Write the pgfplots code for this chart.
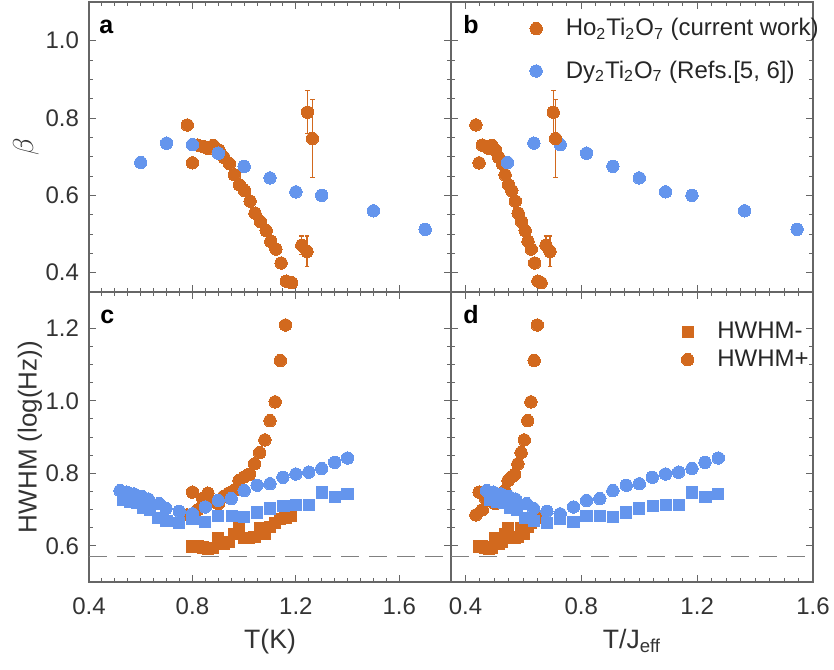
\documentclass[border=0pt]{standalone}
\usepackage{fontspec}
\setmainfont{Liberation Sans}
\usepackage{pgfplots}
\usepackage{pgfplotstable}
\pgfplotsset{compat=1.18}
\definecolor{ho}{RGB}{210,105,30}
\definecolor{dy}{RGB}{100,149,237}

% Ho2Ti2O7 beta vs T(K)
\pgfplotstableread{
x y
0.780 0.782
0.800 0.684
0.820 0.730
0.841 0.727
0.861 0.721
0.881 0.729
0.903 0.717
0.922 0.698
0.943 0.682
0.962 0.653
0.982 0.627
1.002 0.612
1.023 0.585
1.042 0.554
1.063 0.532
1.085 0.509
1.103 0.481
1.123 0.461
1.143 0.425
1.163 0.378
1.184 0.374
}\hoBetaA
\pgfplotstableread{
x y
0.436 0.782
0.447 0.684
0.458 0.730
0.470 0.727
0.481 0.721
0.492 0.729
0.504 0.717
0.515 0.698
0.527 0.682
0.537 0.653
0.549 0.627
0.560 0.612
0.572 0.585
0.582 0.554
0.594 0.532
0.606 0.509
0.616 0.481
0.627 0.461
0.639 0.425
0.650 0.378
0.661 0.374
}\hoBetaB
\pgfplotstableread{
x y e
1.245 0.815 0.056
1.264 0.747 0.100
1.223 0.471 0.024
1.243 0.455 0.040
}\hoErrA
\pgfplotstableread{
x y e
0.703 0.815 0.056
0.711 0.747 0.100
0.678 0.471 0.024
0.692 0.455 0.040
}\hoErrB
\pgfplotstableread{
x y
0.6 0.685
0.7 0.735
0.8 0.731
0.9 0.709
1.0 0.675
1.1 0.645
1.2 0.609
1.3 0.600
1.5 0.560
1.7 0.512
}\dyBetaA
\pgfplotstableread{
x y
0.545 0.685
0.636 0.735
0.727 0.731
0.818 0.709
0.909 0.675
1.000 0.645
1.091 0.609
1.182 0.600
1.364 0.560
1.545 0.512
}\dyBetaB
% HWHM+ Dy
\pgfplotstableread{
xa xb y
0.520 0.473 0.752
0.546 0.496 0.748
0.574 0.522 0.743
0.604 0.549 0.736
0.629 0.572 0.729
0.672 0.611 0.716
0.698 0.635 0.703
0.749 0.681 0.695
0.800 0.727 0.688
0.850 0.773 0.707
0.900 0.818 0.725
0.950 0.864 0.730
1.000 0.909 0.752
1.050 0.955 0.767
1.100 1.000 0.771
1.150 1.045 0.789
1.200 1.091 0.798
1.250 1.136 0.803
1.300 1.182 0.813
1.350 1.227 0.830
1.400 1.273 0.842
}\dyPlus
% HWHM- Dy
\pgfplotstableread{
xa xb y
0.533 0.485 0.727
0.559 0.508 0.722
0.585 0.532 0.719
0.610 0.555 0.704
0.636 0.578 0.698
0.668 0.607 0.676
0.700 0.636 0.669
0.749 0.681 0.663
0.800 0.727 0.673
0.850 0.773 0.665
0.900 0.818 0.681
0.952 0.865 0.683
1.000 0.909 0.679
1.050 0.955 0.692
1.100 1.000 0.703
1.152 1.047 0.710
1.200 1.091 0.713
1.251 1.137 0.713
1.301 1.183 0.747
1.352 1.229 0.734
1.400 1.273 0.742
}\dyMinus
% HWHM+ Ho
\pgfplotstableread{
xa xb y
0.78 0.436 0.685
0.80 0.447 0.748
0.82 0.458 0.699
0.84 0.469 0.731
0.86 0.480 0.745
0.88 0.492 0.722
0.90 0.503 0.716
0.92 0.514 0.736
0.94 0.525 0.745
0.96 0.536 0.752
0.98 0.547 0.780
1.00 0.559 0.790
1.02 0.570 0.797
1.04 0.581 0.826
1.06 0.592 0.857
1.08 0.603 0.892
1.10 0.615 0.945
1.12 0.626 0.997
1.14 0.637 1.111
1.16 0.648 1.209
}\hoPlus
% HWHM- Ho
\pgfplotstableread{
xa xb y
0.80 0.447 0.598
0.82 0.458 0.598
0.84 0.469 0.595
0.86 0.480 0.592
0.88 0.492 0.594
0.90 0.503 0.620
0.92 0.514 0.605
0.94 0.525 0.610
0.96 0.536 0.632
0.98 0.547 0.650
1.00 0.559 0.621
1.02 0.570 0.621
1.04 0.581 0.624
1.06 0.592 0.648
1.08 0.603 0.634
1.10 0.615 0.652
1.12 0.626 0.662
1.14 0.637 0.674
1.16 0.648 0.678
1.18 0.659 0.682
}\hoMinus

\tikzset{lett/.style={anchor=base west, inner sep=0pt, font=\bfseries\fontsize{12.5}{15}\selectfont}}
\pgfplotsset{
  panel/.style={
    scale only axis, width=181pt, height=145pt,
    axis line style={black!60, line width=0.6pt},
    every tick/.style={black!60, line width=0.5pt},
    major tick length=3.5pt, minor tick length=2pt,
    tick align=inside,
    minor x tick num=7, minor y tick num=3,
    xtick={0.4,0.8,1.2,1.6},
    tick label style={font=\fontsize{12}{14}\selectfont, text=black!80,
      /pgf/number format/assume math mode=true,
      /pgf/number format/fixed, /pgf/number format/fixed zerofill,
      /pgf/number format/precision=1},
    xticklabel style={yshift=-4.5pt},
    yticklabel style={xshift=-1.5pt},
    label style={font=\fontsize{13.3}{15}\selectfont, text=black!80},
    legend cell align=left,
    legend style={draw=none, fill=none, font=\fontsize{12}{14}\selectfont, text=black!85},
    legend image code/.code={\path[draw=none,fill=none] (0,0) (0.5cm,0); \draw[##1,/tikz/only marks] plot coordinates {(0.05cm,0cm)};},
  },
  hoc/.style={only marks, mark=*, mark size=3.1pt, mark options={fill=ho, draw=ho, line width=0pt}},
  dyc/.style={only marks, mark=*, mark size=3.1pt, mark options={fill=dy, draw=dy, line width=0pt}},
  hos/.style={only marks, mark=square*, mark size=2.8pt, mark options={fill=ho, draw=ho, line width=0pt}},
  dys/.style={only marks, mark=square*, mark size=2.8pt, mark options={fill=dy, draw=dy, line width=0pt}},
  errb/.style={error bars/.cd, y dir=both, y explicit,
     error bar style={ho, line width=0.6pt},
     error mark options={ho, mark size=1.2pt, rotate=90, line width=0.6pt}, /pgfplots/.cd},
}

\begin{document}
\begin{tikzpicture}
\useasboundingbox (0,0) rectangle (417pt,-334.5pt);
% ---- a ----
\begin{axis}[panel, at={(44.5pt,-1pt)}, anchor=north west,
  xmin=0.4, xmax=1.8, ymin=0.35, ymax=1.1,
  ytick={0.4,0.6,0.8,1.0}, xticklabels={},
  ylabel={$\beta$}, ylabel style={at={(rel axis cs:0,0.5)}, anchor=center, yshift=31.5pt, font=\fontsize{15}{17}\selectfont}]
\addplot[hoc] table[x=x,y=y] {\hoBetaA};
\addplot[hoc, errb] table[x=x,y=y,y error=e] {\hoErrA};
\addplot[dyc] table[x=x,y=y] {\dyBetaA};
\node[lett] at (rel axis cs:0,1) [xshift=5pt, yshift=-15.5pt] {a};
\end{axis}
% ---- b ----
\begin{axis}[panel, at={(225.5pt,-1pt)}, anchor=north west,
  xmin=0.35, xmax=1.6, ymin=0.35, ymax=1.1,
  ytick={0.4,0.6,0.8,1.0}, xticklabels={}, yticklabels={},
  legend style={at={(rel axis cs:1,1)}, anchor=north east, xshift=8pt, yshift=-4pt, row sep=7pt}]
\addplot[hoc] table[x=x,y=y] {\hoBetaB};
\addlegendentry{Ho\textsubscript{2}Ti\textsubscript{2}O\textsubscript{7} (current work)}
\addplot[dyc] table[x=x,y=y] {\dyBetaB};
\addlegendentry{{Dy\textsubscript{2}Ti\textsubscript{2}O\textsubscript{7} (Refs.[5, 6])}}
\addplot[hoc, forget plot, errb] table[x=x,y=y,y error=e] {\hoErrB};
\node[lett] at (rel axis cs:0,1) [xshift=6pt, yshift=-15.5pt] {b};
\end{axis}
% ---- c ----
\begin{axis}[panel, at={(44.5pt,-146pt)}, anchor=north west,
  xmin=0.4, xmax=1.8, ymin=0.5, ymax=1.3,
  ytick={0.6,0.8,1.0,1.2},
  xlabel={T(K)},
  ylabel={HWHM (log(Hz))}, ylabel style={at={(rel axis cs:0,0.5)}, anchor=center, yshift=29.5pt, font=\fontsize{13}{15}\selectfont}]
\addplot[black!50, line width=0.6pt, dash pattern=on 9pt off 5pt] coordinates {(0.4,0.57) (1.8,0.57)};
\addplot[hos] table[x=xa,y=y] {\hoMinus};
\addplot[hoc] table[x=xa,y=y] {\hoPlus};
\addplot[dys] table[x=xa,y=y] {\dyMinus};
\addplot[dyc] table[x=xa,y=y] {\dyPlus};
\node[lett] at (rel axis cs:0,1) [xshift=5.5pt, yshift=-15.5pt] {c};
\end{axis}
% ---- d ----
\begin{axis}[panel, at={(225.5pt,-146pt)}, anchor=north west,
  xmin=0.35, xmax=1.6, ymin=0.5, ymax=1.3,
  ytick={0.6,0.8,1.0,1.2}, yticklabels={},
  xlabel={T/J\textsubscript{eff}},
  legend style={at={(rel axis cs:1,1)}, anchor=north east, xshift=3pt, yshift=-11pt, row sep=0pt}]
\addplot[black!50, line width=0.6pt, dash pattern=on 9pt off 5pt, forget plot] coordinates {(0.35,0.57) (1.6,0.57)};
\addplot[hos] table[x=xb,y=y] {\hoMinus};
\addlegendentry{HWHM-}
\addplot[hoc] table[x=xb,y=y] {\hoPlus};
\addlegendentry{HWHM+}
\addplot[dys, forget plot] table[x=xb,y=y] {\dyMinus};
\addplot[dyc, forget plot] table[x=xb,y=y] {\dyPlus};
\node[lett] at (rel axis cs:0,1) [xshift=6pt, yshift=-15.5pt] {d};
\end{axis}
\end{tikzpicture}
\end{document}
